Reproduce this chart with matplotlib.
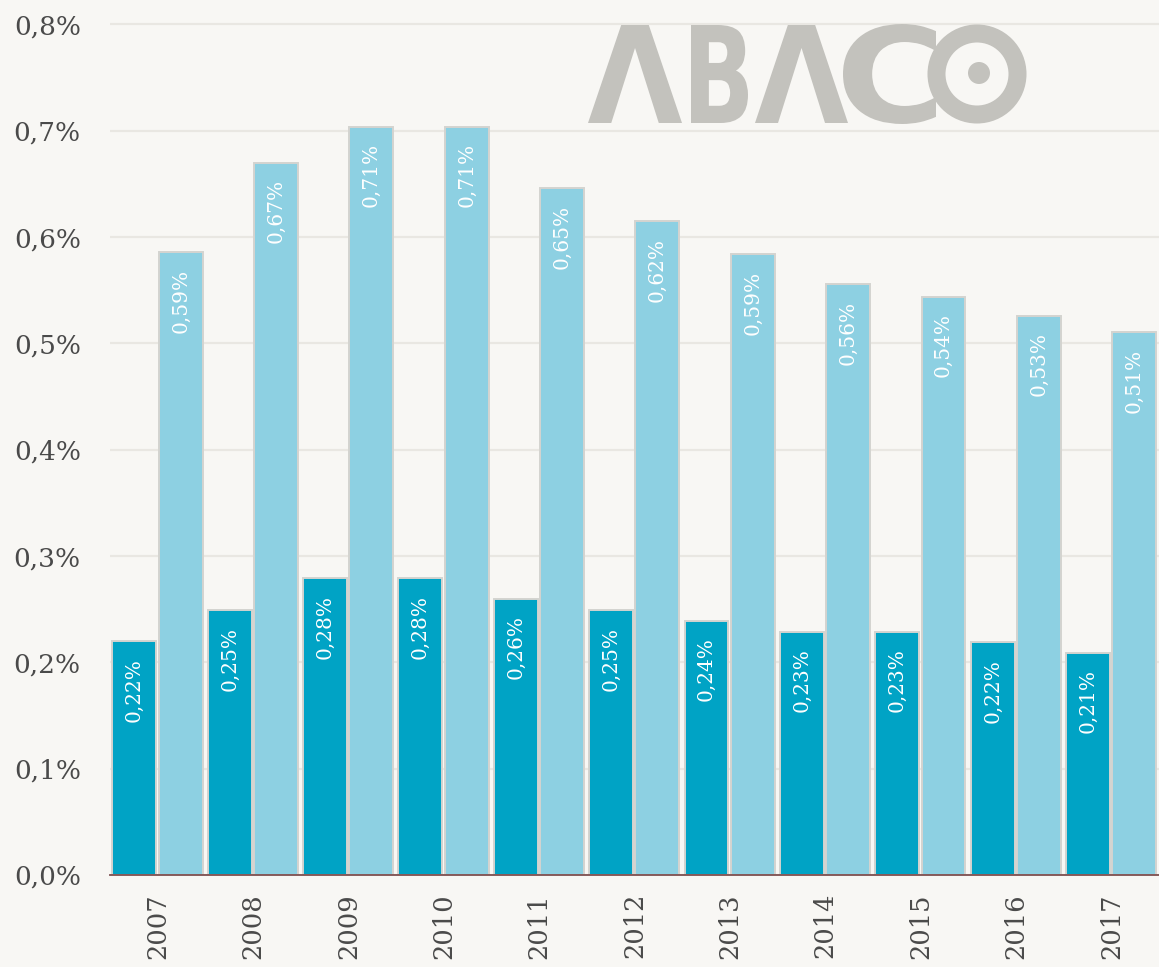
import matplotlib
matplotlib.use("Agg")
import matplotlib.pyplot as plt
from matplotlib.patches import Ellipse, PathPatch
from matplotlib.textpath import TextPath
from matplotlib.font_manager import FontProperties
from matplotlib.transforms import Affine2D
import numpy as np

years = ["2007", "2008", "2009", "2010", "2011", "2012", "2013", "2014", "2015", "2016", "2017"]
series_dark = [0.220, 0.249, 0.279, 0.279, 0.260, 0.249, 0.239, 0.229, 0.229, 0.219, 0.209]
series_light = [0.586, 0.670, 0.704, 0.704, 0.646, 0.615, 0.584, 0.556, 0.544, 0.526, 0.511]
labels_dark = ["0,22%", "0,25%", "0,28%", "0,28%", "0,26%", "0,25%", "0,24%", "0,23%", "0,23%", "0,22%", "0,21%"]
labels_light = ["0,59%", "0,67%", "0,71%", "0,71%", "0,65%", "0,62%", "0,59%", "0,56%", "0,54%", "0,53%", "0,51%"]
yticks = [0.0, 0.1, 0.2, 0.3, 0.4, 0.5, 0.6, 0.7, 0.8]
ytick_labels = ["0,0%", "0,1%", "0,2%", "0,3%", "0,4%", "0,5%", "0,6%", "0,7%", "0,8%"]

BG = "#f8f7f4"
DARK = "#00a3c5"
LIGHT = "#8dd0e2"
LOGO = "#c3c2bd"
SERIF = "DejaVu Serif"
W, H = 1159, 967

fig = plt.figure(figsize=(W / 100, H / 100), dpi=100, facecolor=BG)
ax = fig.add_axes([110 / W, 1 - 875 / H, 1 - 110 / W, 875 / H])
ax.set_facecolor(BG)

x = np.arange(len(years))
w = 0.46
b1 = ax.bar(x - 0.245, series_dark, width=w, color=DARK, edgecolor="#d4d4d0", linewidth=1.4, zorder=3)
b2 = ax.bar(x + 0.24, series_light, width=w, color=LIGHT, edgecolor="#d4d4d0", linewidth=1.4, zorder=3)

for bars, labs in ((b1, labels_dark), (b2, labels_light)):
    for r, lab in zip(bars, labs):
        ax.annotate(lab, (r.get_x() + r.get_width() / 2, r.get_height()),
                    xytext=(0, -12), textcoords="offset points",
                    rotation=90, ha="center", va="top", color="white",
                    fontsize=14.5, family=SERIF, zorder=4)

ax.set_xlim(-0.5, len(years) - 0.5)
ax.set_ylim(0, 0.823)
ax.set_yticks(yticks)
ax.set_yticklabels(ytick_labels, family=SERIF, fontsize=19, color="#4a4a4a")
ax.set_xticks(x)
ax.set_xticklabels(years, rotation=90, family=SERIF, fontsize=18.5, color="#4a4a4a")
ax.tick_params(axis="both", length=0)
ax.tick_params(axis="y", pad=21)
ax.tick_params(axis="x", pad=13)
ax.grid(axis="y", color="#e9e7e2", linewidth=1.6, zorder=0)
for s in ("top", "right", "left"):
    ax.spines[s].set_visible(False)
ax.spines["bottom"].set_color("#7d4f4f")
ax.spines["bottom"].set_linewidth(1.3)
ax.spines["bottom"].set_zorder(5)

# logo "ABACO" (stylised A as Λ), each glyph fitted into its box (pixel coords, y down)
fp = FontProperties(family="DejaVu Sans", weight="bold")


def glyph(ch, x0, x1, y0, y1):
    tp = TextPath((0, 0), ch, size=100, prop=fp)
    ext = tp.get_extents()
    sx = (x1 - x0) / ext.width / W
    sy = (y1 - y0) / ext.height / H
    tr = (Affine2D().translate(-ext.x0, -ext.y0).scale(sx, sy)
          .translate(x0 / W, 1 - y1 / H) + fig.transFigure)
    fig.add_artist(PathPatch(tp, transform=tr, color=LOGO, lw=0))


glyph("Λ", 588, 682, 25, 123)
glyph("B", 691, 748, 25, 123)
glyph("Λ", 755, 848, 25, 123)
glyph("C", 843, 936, 24, 124)
fig.add_artist(Ellipse((977 / W, 1 - 74 / H), 81 / W, 81 / H, fill=False,
                       edgecolor=LOGO, linewidth=18 * 0.72))
fig.add_artist(Ellipse((979 / W, 1 - 73 / H), 22 / W, 22 / H, color=LOGO, lw=0))

fig.savefig("out.png", dpi=100, facecolor=BG)
